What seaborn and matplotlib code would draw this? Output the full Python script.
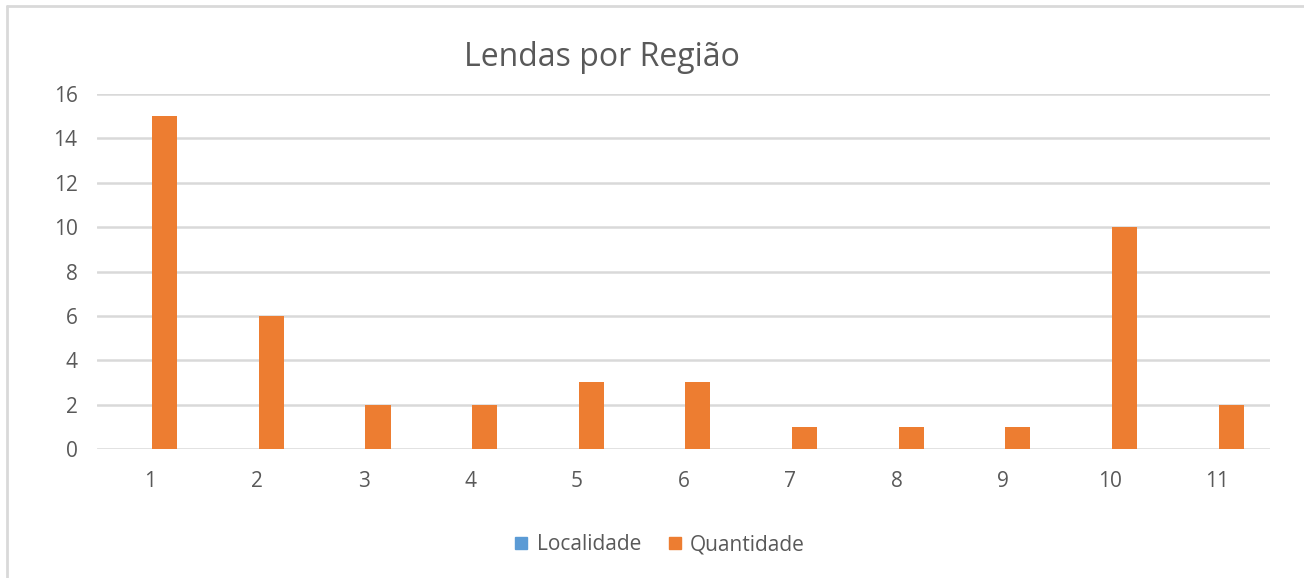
import pandas as pd
import matplotlib.pyplot as plt
import seaborn as sns
from matplotlib.lines import Line2D

regioes = [1, 2, 3, 4, 5, 6, 7, 8, 9, 10, 11]
localidade = [0, 0, 0, 0, 0, 0, 0, 0, 0, 0, 0]
quantidade = [15, 6, 2, 2, 3, 3, 1, 1, 1, 10, 2]
series = ["Localidade", "Quantidade"]
cores = ["#5B9BD5", "#ED7D31"]
y_ticks = [0, 2, 4, 6, 8, 10, 12, 14, 16]

df = pd.DataFrame({
    "Regiao": regioes * 2,
    "Serie": [series[0]] * len(regioes) + [series[1]] * len(regioes),
    "Valor": localidade + quantidade,
})

sns.set_style("white")
plt.rcParams["font.family"] = ["Open Sans", "DejaVu Sans"]
texto = "#595959"

fig = plt.figure(figsize=(13.04, 5.78), dpi=100)
ax = fig.add_axes([97 / 1304, 1 - 449 / 578, (1270 - 97) / 1304, (449 - 94) / 578])

sns.barplot(data=df, x="Regiao", y="Valor", hue="Serie", hue_order=series,
            palette=cores, width=0.54, gap=0.13, linewidth=0, saturation=1,
            errorbar=None, ax=ax, zorder=3)

ax.set_xlim(-0.5, 10.5)
ax.set_ylim(0, 16)
ax.set_yticks(y_ticks)
ax.set_xlabel("")
ax.set_ylabel("")
ax.grid(axis="y", color="#D9D9D9", linewidth=1.8, zorder=0)
ax.set_axisbelow(True)
for s in ax.spines.values():
    s.set_visible(False)
ax.tick_params(axis="y", length=0, pad=14, labelsize=15, labelcolor=texto)
ax.tick_params(axis="x", length=0, pad=16, labelsize=15, labelcolor=texto)

ax.get_legend().remove()
handles = [Line2D([], [], marker="s", linestyle="none", markersize=8,
                  markerfacecolor=c, markeredgecolor=c) for c in cores]
fig.legend(handles, series, loc="center", bbox_to_anchor=(660 / 1304, 1 - 545 / 578),
           ncol=2, frameon=False, fontsize=15, labelcolor=texto,
           handlelength=0.6, handletextpad=0.45, columnspacing=1.3)

fig.text(602 / 1304, 1 - 57 / 578, "Lendas por Região", ha="center", va="center",
         fontsize=23, color=texto)

# chart frame (left and top edges visible)
fig.add_artist(Line2D([7 / 1304, 7 / 1304], [0, 1 - 6 / 578], transform=fig.transFigure,
                      color="#D9D9D9", linewidth=2))
fig.add_artist(Line2D([7 / 1304, 1], [1 - 6 / 578, 1 - 6 / 578], transform=fig.transFigure,
                      color="#D9D9D9", linewidth=2))

fig.savefig("out.png", dpi=100, facecolor="white")
